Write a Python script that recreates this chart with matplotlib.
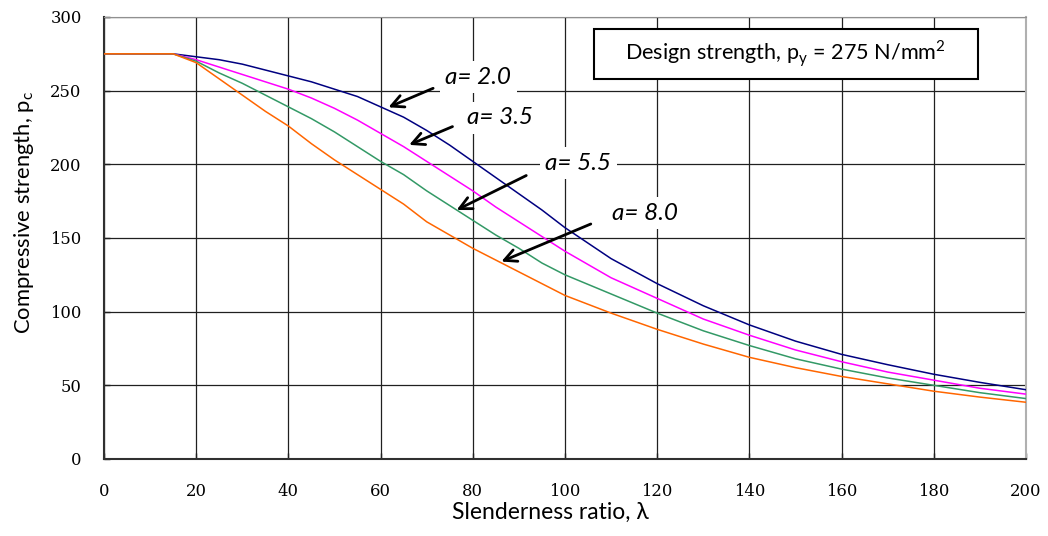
import numpy as np
import matplotlib
matplotlib.use("Agg")
import matplotlib.pyplot as plt
from matplotlib.patches import Rectangle

# slenderness ratio values
lam = [0, 15, 20, 25, 30, 35, 40, 45, 50, 55, 60, 65, 70, 75, 80, 85, 90, 95, 100,
       110, 120, 130, 140, 150, 160, 170, 180, 190, 200]

# compressive strength pc (N/mm2) for each Robertson constant
pc_a20 = [275, 275, 273, 271, 268, 264, 260, 256, 251, 246, 239, 232, 223, 213, 202,
          191, 180, 169, 157, 136, 119, 104, 91, 80, 71, 64, 57.5, 52, 47]
pc_a35 = [275, 275, 271, 266, 261, 256, 251, 245, 238, 230, 221, 212, 202, 192, 182,
          171, 161, 151, 141, 123, 109, 95, 84, 74, 66, 59, 53.5, 48, 44]
pc_a55 = [275, 275, 270, 262, 255, 247, 239, 231, 222, 212, 202, 193, 182, 172, 162,
          152, 143, 133, 125, 112, 99, 87, 77, 68, 61, 55, 50, 45, 41]
pc_a80 = [275, 275, 269, 258, 247, 236, 226, 214, 203, 193, 183, 173, 161, 152, 143,
          135, 127, 119, 111, 99, 88, 78, 69, 62, 56, 51, 46, 42, 38.5]

labels = ["a= 2.0", "a= 3.5", "a= 5.5", "a= 8.0"]
text_pos = [(74, 259), (78.7, 231.5), (95.7, 200.7), (110.3, 166.7)]
arrow_tail = [(71.4, 251.6), (75.6, 225.6), (91.6, 192.4), (105.6, 159.5)]
arrow_head = [(61.7, 238.7), (66.2, 213.2), (76.5, 169.0), (86.2, 134.0)]

colors = ["#000080", "#ff00ff", "#339966", "#ff6600"]

fig = plt.figure(figsize=(10.48, 5.36), dpi=100)
ax = fig.add_axes([0.0992, 0.1437, 0.8798, 0.8246])

for y, c in zip([pc_a20, pc_a35, pc_a55, pc_a80], colors):
    ax.plot(lam, y, color=c, lw=1.1, zorder=3)

ax.set_xlim(0, 200)
ax.set_ylim(0, 300)
ax.set_xticks(np.arange(0, 201, 20))
ax.set_yticks(np.arange(0, 301, 50))
ax.grid(True, color="#202020", lw=0.9)
ax.set_axisbelow(True)
ax.tick_params(direction="in", length=4, width=1, colors="#202020", labelcolor="black")
ax.tick_params(axis="x", pad=17)
ax.tick_params(axis="y", pad=16)
for lab in ax.get_xticklabels() + ax.get_yticklabels():
    lab.set_fontfamily("DejaVu Serif")
    lab.set_fontsize(11.8)

ax.spines["left"].set_color("#303030")
ax.spines["bottom"].set_color("#303030")
ax.spines["left"].set_linewidth(1.5)
ax.spines["bottom"].set_linewidth(1.5)
ax.spines["top"].set_color("#909090")
ax.spines["right"].set_color("#b0b0b0")
ax.spines["right"].set_linewidth(1.5)

ax.set_xlabel("Slenderness ratio, λ", fontfamily="Lato", fontsize=16.5)
ax.set_ylabel(r"Compressive strength, p$_\mathregular{c}$", fontfamily="Lato", fontsize=15.8)
ax.xaxis.set_label_coords(0.4837, -0.098)
ax.yaxis.set_label_coords(-0.074, 0.557)

for lab, tp, t0, t1 in zip(labels, text_pos, arrow_tail, arrow_head):
    ax.text(tp[0], tp[1], lab, fontfamily="Lato", fontstyle="italic", fontsize=17.5,
            ha="left", va="center", zorder=4,
            bbox=dict(facecolor="white", edgecolor="none", pad=4))
    ax.annotate("", xy=t1, xytext=t0,
                arrowprops=dict(arrowstyle="->", color="black", lw=2,
                                mutation_scale=22, shrinkA=0, shrinkB=0),
                zorder=5)

ax.add_patch(Rectangle((0.531, 0.8597), 0.4165, 0.113, transform=ax.transAxes,
                       facecolor="white", edgecolor="black", lw=1.5, zorder=4))
ax.text(0.531 + 0.4165 / 2, 0.8597 + 0.113 / 2,
        r"Design strength, p$_\mathregular{y}$ = 275 N/mm$^\mathregular{2}$",
        transform=ax.transAxes, fontfamily="Lato", fontsize=15.6,
        ha="center", va="center", zorder=5)

fig.savefig("out.png", dpi=100)
